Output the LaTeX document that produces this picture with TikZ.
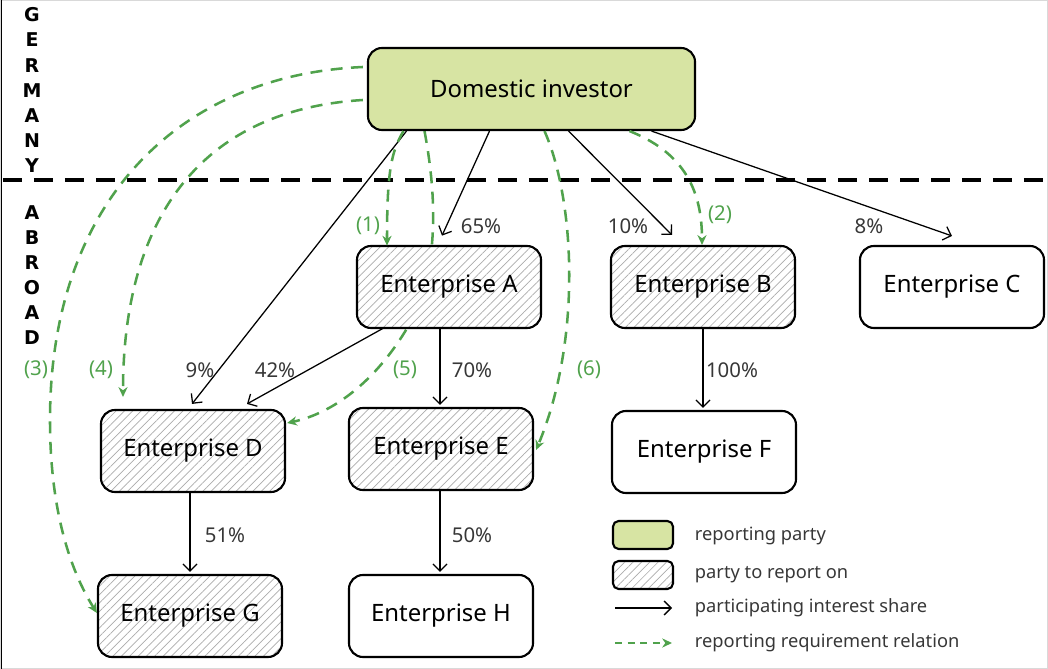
\documentclass[tikz,border=0pt]{standalone}
\usepackage{fontspec}
\setmainfont{Noto Sans}
\newfontfamily\heavyfont{DejaVu Sans}
\usetikzlibrary{arrows.meta, positioning, calc, patterns.meta, backgrounds}
\definecolor{invgreen}{RGB}{215,228,163}
\definecolor{reqgreen}{RGB}{80,162,76}
\definecolor{pctgray}{RGB}{55,55,55}
\tikzstyle{reporter} = [rectangle, rounded corners=10pt, minimum width=8.175cm, minimum height=2.05cm, draw=black, line width=1.5pt, fill=invgreen, font=\fontsize{17}{20}\selectfont]
\tikzstyle{firm} = [rectangle, rounded corners=10pt, minimum width=4.6cm, minimum height=2.05cm, draw=black, line width=1.5pt, fill=white, font=\fontsize{17}{20}\selectfont]
\tikzstyle{hatched} = [rectangle, rounded corners=10pt, minimum width=4.6cm, minimum height=2.05cm, draw=black, line width=1.5pt, preaction={fill=white}, pattern={Lines[angle=45,distance=4.2pt,line width=0.5pt]}, pattern color=gray!65, font=\fontsize{17}{20}\selectfont]
\tikzstyle{share} = [line width=0.9pt, -{Straight Barb[length=5pt,width=10pt]}]
\tikzstyle{report} = [reqgreen, line width=1.8pt, dash pattern=on 8.5pt off 6pt, -{Stealth[length=7pt,width=6.5pt]}]
\tikzstyle{frontier} = [line width=2.8pt, dash pattern=on 13.5pt off 8.5pt]
\tikzstyle{pct} = [text=pctgray, font=\fontsize{14.5}{17}\selectfont]
\tikzstyle{reqlabel} = [text=reqgreen, font=\fontsize{14.5}{17}\selectfont]
\tikzstyle{legendtext} = [anchor=west, text=pctgray, font=\fontsize{13}{16}\selectfont]
\tikzstyle{country} = [align=center, inner sep=0pt, font=\heavyfont\bfseries\fontsize{13.5}{17.8}\selectfont]

\begin{document}
\begin{tikzpicture}[x=0.025cm, y=-0.025cm]
      \useasboundingbox (0,0) rectangle (1048,669);
      \draw [gray!30, line width=0.6pt] (0.5,0.5) rectangle (1047.5,668.5);
      \draw [black, line width=0.8pt] (1.5,0) -- (1.5,669);

      \node (germany) [country] at (32,90) {G\\E\\R\\M\\A\\N\\Y};
      \node (abroad) [country] at (32,275) {A\\B\\R\\O\\A\\D};
      \coordinate (lineL) at (3,180);
      \coordinate (lineR) at (1048,180);
      \draw [frontier] (lineL) -- (lineR);

      \node (inv) [reporter] at (531.5,89) {Domestic investor};
      \node (a) [hatched] at (449,287) {Enterprise A};
      \node (b) [hatched] at (703,287) {Enterprise B};
      \node (c) [firm] at (952,287) {Enterprise C};
      \node (d) [hatched] at (193,451) {Enterprise D};
      \node (e) [hatched] at (441,449) {Enterprise E};
      \node (f) [firm] at (704,452) {Enterprise F};
      \node (g) [hatched] at (190,616) {Enterprise G};
      \node (h) [firm] at (441,616) {Enterprise H};

      \draw [share] ($(inv.south)+(-125,0)$) -- ($(d.north)+(-1,-5)$);
      \draw [share] ($(inv.south)+(-42,0)$) -- ($(a.north)+(-7,-10)$);
      \draw [share] ($(inv.south)+(37,0)$) -- ($(b.north)+(-31,-10)$);
      \draw [share] ($(inv.south)+(120,0)$) -- ($(c.north)+(0,-9)$);
      \draw [share] ($(a.south)+(-66,0)$) -- ($(d.north)+(54,-5)$);
      \draw [share] ($(a.south)+(-9,0)$) -- ($(e.north)+(-1,-2)$);
      \draw [share] (b.south) -- ($(f.north)+(-1,-2)$);
      \draw [share] ($(d.south)+(-3,0)$) -- ($(g.north)+(0,-2)$);
      \draw [share] ($(e.south)+(-1,0)$) -- ($(h.north)+(-1,-2)$);

      \draw [report] ($(inv.south)+(-128,0)$) .. controls ($(inv.south)+(-140,20)$) and ($(a.north)+(-62,-75)$) .. ($(a.north)+(-62,0)$);
      \draw [report] ($(inv.south)+(98,0)$) .. controls ($(inv.south)+(148,20)$) and ($(b.north)+(-1,-60)$) .. ($(b.north)+(-1,0)$);
      \draw [report] ($(inv.west)+(-4,-22)$) .. controls (180,75) and (50,200) .. (50,420) .. controls (50,510) and (70,570) .. ($(g.west)+(0,-3)$);
      \draw [report] ($(inv.west)+(-4,11)$) .. controls (200,110) and ($(d.north)+(-70,-190)$) .. ($(d.north)+(-70,-12)$);
      \begin{scope}[on background layer]
        \draw [report] ($(inv.south)+(-107,0)$) .. controls (445,240) and (425,298) .. ($(a.south)+(-42,0)$) .. controls (370,390) and (325,415) .. ($(d.east)+(1,-28)$);
      \end{scope}
      \draw [report] ($(inv.south)+(13,0)$) .. controls (575,200) and (582,340) .. ($(e.east)+(2,1)$);

      \node (p9) [pct] at (200,370) {9\%};
      \node (p42) [pct] at (275,370) {42\%};
      \node (p65) [pct] at (481,226) {65\%};
      \node (p10) [pct] at (628,226) {10\%};
      \node (p8) [pct] at (869,226) {8\%};
      \node (p70) [pct] at (472,370) {70\%};
      \node (p100) [pct] at (732,370) {100\%};
      \node (p51) [pct] at (225,535) {51\%};
      \node (p50) [pct] at (472,535) {50\%};

      \node (r1) [reqlabel] at (368,226) {(1)};
      \node (r2) [reqlabel] at (720,215) {(2)};
      \node (r3) [reqlabel] at (36,370) {(3)};
      \node (r4) [reqlabel] at (101,370) {(4)};
      \node (r5) [reqlabel] at (405,370) {(5)};
      \node (r6) [reqlabel] at (589,370) {(6)};

      \node (legrep) [reporter, minimum width=1.5cm, minimum height=0.7cm, rounded corners=4pt] at (643,535) {};
      \node (legtarget) [hatched, minimum width=1.5cm, minimum height=0.7cm, rounded corners=4pt] at (643,575) {};
      \coordinate (shareL) at (615,608);
      \coordinate (shareR) at (672,608);
      \coordinate (reqL) at (615,643);
      \coordinate (reqR) at (672,643);
      \draw [share] (shareL) -- (shareR);
      \draw [report, line width=1.2pt, dash pattern=on 5pt off 4pt] (reqL) -- (reqR);
      \node (legreptext) [legendtext] at (690,536) {reporting party};
      \node (legtargettext) [legendtext] at (690,575) {party to report on};
      \node (legsharetext) [legendtext] at (690,608) {participating interest share};
      \node (legreqtext) [legendtext] at (690,643) {reporting requirement relation};
    \end{tikzpicture}
\end{document}
